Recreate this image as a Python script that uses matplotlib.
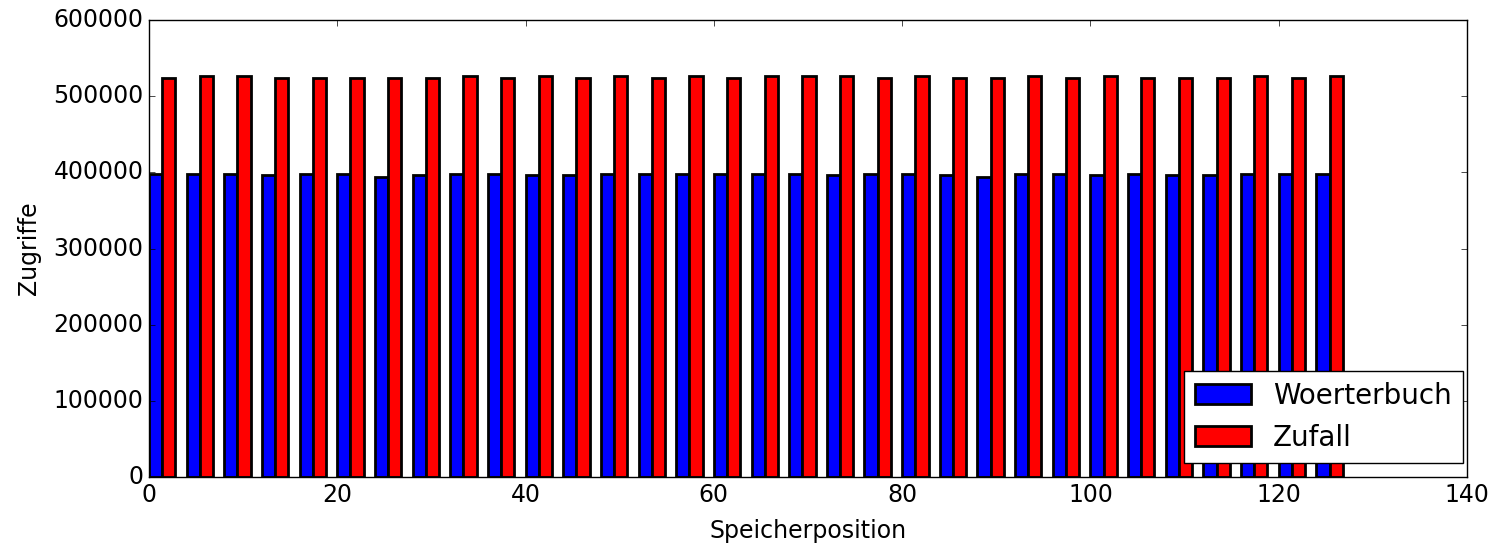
import matplotlib
matplotlib.use("Agg")
import matplotlib.pyplot as plt
import numpy as np

# Speicherpositionen (jede 4.)
positions = np.arange(0, 128, 4)

# Zugriffe pro Position
woerterbuch = [397500, 397500, 397500, 396500, 397500, 397500, 394000, 396500,
               397500, 397500, 396500, 396500, 397500, 397500, 397500, 397500,
               397500, 397500, 396500, 397500, 397500, 396500, 394000, 397500,
               397500, 396500, 397500, 396500, 396500, 397500, 397500, 397500]
zufall = [524000, 526000, 526000, 524000, 524000, 524000, 524000, 524000,
          526000, 524000, 526000, 524000, 526000, 524000, 526000, 524000,
          526000, 526000, 526000, 524000, 526000, 524000, 524000, 526000,
          524000, 526000, 524000, 524000, 524000, 526000, 524000, 526000]

plt.style.use('classic')
plt.rcParams['font.family'] = ['DejaVu Sans']
plt.rcParams['font.size'] = 17

barWidth = 1.4

fig, ax = plt.subplots(figsize=(15.11, 5.47), dpi=100)
fig.patch.set_facecolor('white')
fig.subplots_adjust(left=0.0986, right=0.9709, top=0.9634, bottom=0.128)

ax.bar(positions, woerterbuch, barWidth, align='edge', color='blue',
       edgecolor='black', linewidth=2, label='Woerterbuch')
ax.bar(positions + barWidth, zufall, barWidth, align='edge', color='red',
       edgecolor='black', linewidth=2, label='Zufall')

ax.set_xlim(0, 140)
ax.set_ylim(0, 600000)
ax.set_xticks(np.arange(0, 141, 20))
ax.set_yticks(np.arange(0, 600001, 100000))
ax.ticklabel_format(style='plain', axis='y', useOffset=False)

ax.set_xlabel('Speicherposition', labelpad=9)
ax.set_ylabel('Zugriffe', labelpad=9)

ax.legend(loc='lower right', fontsize=20, borderaxespad=0,
          bbox_to_anchor=(0.997, 0.031))

fig.savefig('out.png', dpi=100, facecolor='white')
